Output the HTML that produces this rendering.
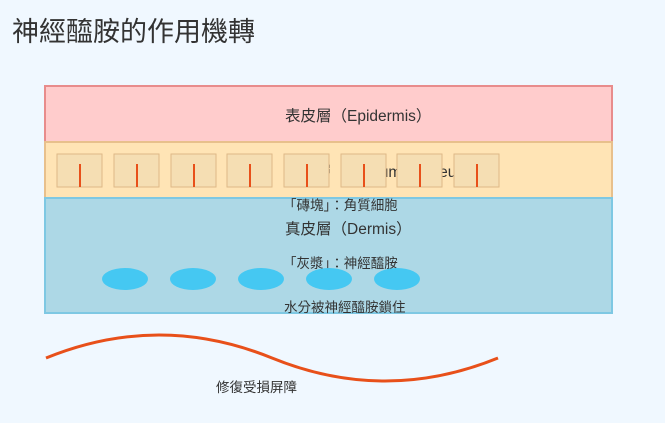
<!DOCTYPE html>
<html><head><meta charset="utf-8"><style>
html,body{margin:0;padding:0;background:#f0f8ff;}
svg{display:block;}
text{font-family:"Liberation Sans","Noto Sans CJK TC",sans-serif;fill:#333;}
</style></head><body>
<svg width="665" height="423" viewBox="0 0 665 423" xmlns="http://www.w3.org/2000/svg">
<rect width="665" height="423" fill="#f0f8ff"/>
<text x="12" y="41" font-size="27">神經醯胺的作用機轉</text>
<rect x="45" y="86" width="567" height="56" fill="#ffcccc" stroke="#e88c8c" stroke-width="2"/>
<text x="285" y="121" font-size="15.5">表皮層（Epidermis）</text>
<rect x="45" y="142" width="567" height="56" fill="#ffe4b5" stroke="#e8c08c" stroke-width="2"/>
<text x="285" y="177" font-size="15.5">角質層（Stratum Corneum）</text>
<rect x="45" y="198" width="567" height="115" fill="#add8e6" stroke="#7ec8e3" stroke-width="2"/>
<g fill="#f5deb3" stroke="#deb887" stroke-width="1">
<rect x="57" y="154" width="45" height="33"/><rect x="114" y="154" width="45" height="33"/>
<rect x="171" y="154" width="45" height="33"/><rect x="227" y="154" width="45" height="33"/>
<rect x="284" y="154" width="45" height="33"/><rect x="341" y="154" width="45" height="33"/>
<rect x="397" y="154" width="45" height="33"/><rect x="454" y="154" width="45" height="33"/>
</g>
<g stroke="#e8501a" stroke-width="2">
<line x1="80" y1="164" x2="80" y2="187"/><line x1="137" y1="164" x2="137" y2="187"/>
<line x1="194" y1="164" x2="194" y2="187"/><line x1="250" y1="164" x2="250" y2="187"/>
<line x1="307" y1="164" x2="307" y2="187"/><line x1="364" y1="164" x2="364" y2="187"/>
<line x1="420" y1="164" x2="420" y2="187"/><line x1="477" y1="164" x2="477" y2="187"/>
</g>
<text x="283" y="210" font-size="13.5">「磚塊」：角質細胞</text>
<text x="285" y="234" font-size="15.5">真皮層（Dermis）</text>
<text x="283" y="268" font-size="13.5">「灰漿」：神經醯胺</text>
<g fill="#45c8f2">
<ellipse cx="125" cy="279" rx="23" ry="11"/><ellipse cx="193" cy="279" rx="23" ry="11"/>
<ellipse cx="261" cy="279" rx="23" ry="11"/><ellipse cx="329" cy="279" rx="23" ry="11"/>
<ellipse cx="397" cy="279" rx="23" ry="11"/>
</g>
<text x="284" y="312" font-size="13.5">水分被神經醯胺鎖住</text>
<path d="M46 358 Q159 312 272 358 T498 358" fill="none" stroke="#e8501a" stroke-width="3"/>
<text x="216" y="392" font-size="13.5">修復受損屏障</text>
</svg>
</body></html>
